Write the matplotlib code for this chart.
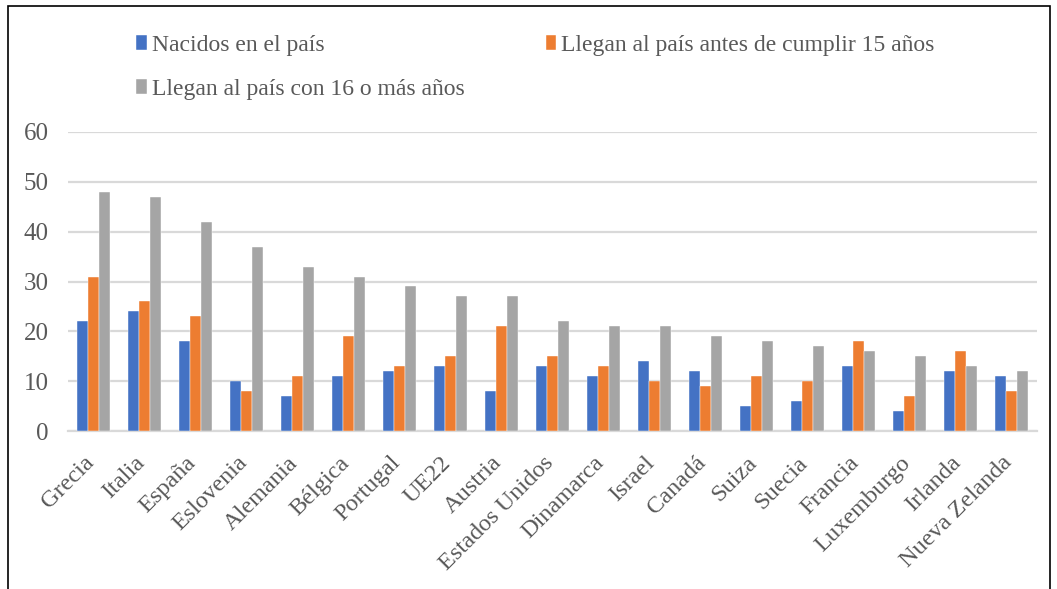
import numpy as np
import matplotlib.pyplot as plt
from matplotlib.patches import Rectangle
from matplotlib.transforms import ScaledTranslation

paises = ["Grecia", "Italia", "España", "Eslovenia", "Alemania", "Bélgica", "Portugal",
          "UE22", "Austria", "Estados Unidos", "Dinamarca", "Israel", "Canadá", "Suiza",
          "Suecia", "Francia", "Luxemburgo", "Irlanda", "Nueva Zelanda"]
nacidos = [22, 24, 18, 10, 7, 11, 12, 13, 8, 13, 11, 14, 12, 5, 6, 13, 4, 12, 11]
antes_15 = [31, 26, 23, 8, 11, 19, 13, 15, 21, 15, 13, 10, 9, 11, 10, 18, 7, 16, 8]
con_16 = [48, 47, 42, 37, 33, 31, 29, 27, 27, 22, 21, 21, 19, 18, 17, 16, 15, 13, 12]

series = ["Nacidos en el país", "Llegan al país antes de cumplir 15 años",
          "Llegan al país con 16 o más años"]
colores = ["#4472C4", "#ED7D31", "#A5A5A5"]

plt.rcParams['font.family'] = ['Liberation Serif', 'DejaVu Serif']

fig = plt.figure(figsize=(10.57, 5.89), dpi=100)
ax = fig.add_axes([68 / 1057, 1 - 431 / 589, (1037 - 68) / 1057, (431 - 132) / 589])

x = np.arange(len(paises))
w = 0.22
for i, (vals, col, lab) in enumerate(zip([nacidos, antes_15, con_16], colores, series)):
    ax.bar(x + (i - 1) * w, vals, width=w, color=col, label=lab,
           edgecolor="white", linewidth=0.3, zorder=3)

ax.set_xlim(-0.5, len(paises) - 0.5)
ax.set_ylim(0, 60)
ax.set_yticks(range(0, 61, 10))
ax.grid(axis="y", color="#D9D9D9", linewidth=1.6, zorder=0)
for s in ["top", "right", "left"]:
    ax.spines[s].set_visible(False)
ax.spines["bottom"].set_color("#D9D9D9")
ax.spines["bottom"].set_linewidth(1.6)
ax.tick_params(length=0, colors="#595959")
ax.tick_params(axis="y", pad=14, labelsize=18)
ax.tick_params(axis="x", pad=6, labelsize=17.5)

ax.set_xticks(x)
ax.set_xticklabels(paises, rotation=45, ha="right", rotation_mode="anchor")
# desplazar etiquetas como en Excel
desplaz = ScaledTranslation(-10 / 100, -13 / 100, fig.dpi_scale_trans)
for t in ax.get_xticklabels():
    t.set_transform(t.get_transform() + desplaz)

# orden por filas: ncol=2 rellena por columnas
handles, labels = ax.get_legend_handles_labels()
orden = [0, 2, 1]
fig.legend([handles[k] for k in orden], [labels[k] for k in orden], ncol=2,
           loc="upper left", bbox_to_anchor=(115 / 1057, 1 - 14 / 589),
           frameon=False, fontsize=17, labelcolor="#595959", handlelength=0.45,
           handleheight=0.6, handletextpad=0.2, columnspacing=3.45, labelspacing=0.95)

fig.patches.append(Rectangle((8 / 1057, -0.1), (1050 - 8) / 1057, 1.1 - 6 / 589,
                             transform=fig.transFigure, fill=False, edgecolor="black",
                             linewidth=1.2))

fig.savefig("out.png", dpi=100)
